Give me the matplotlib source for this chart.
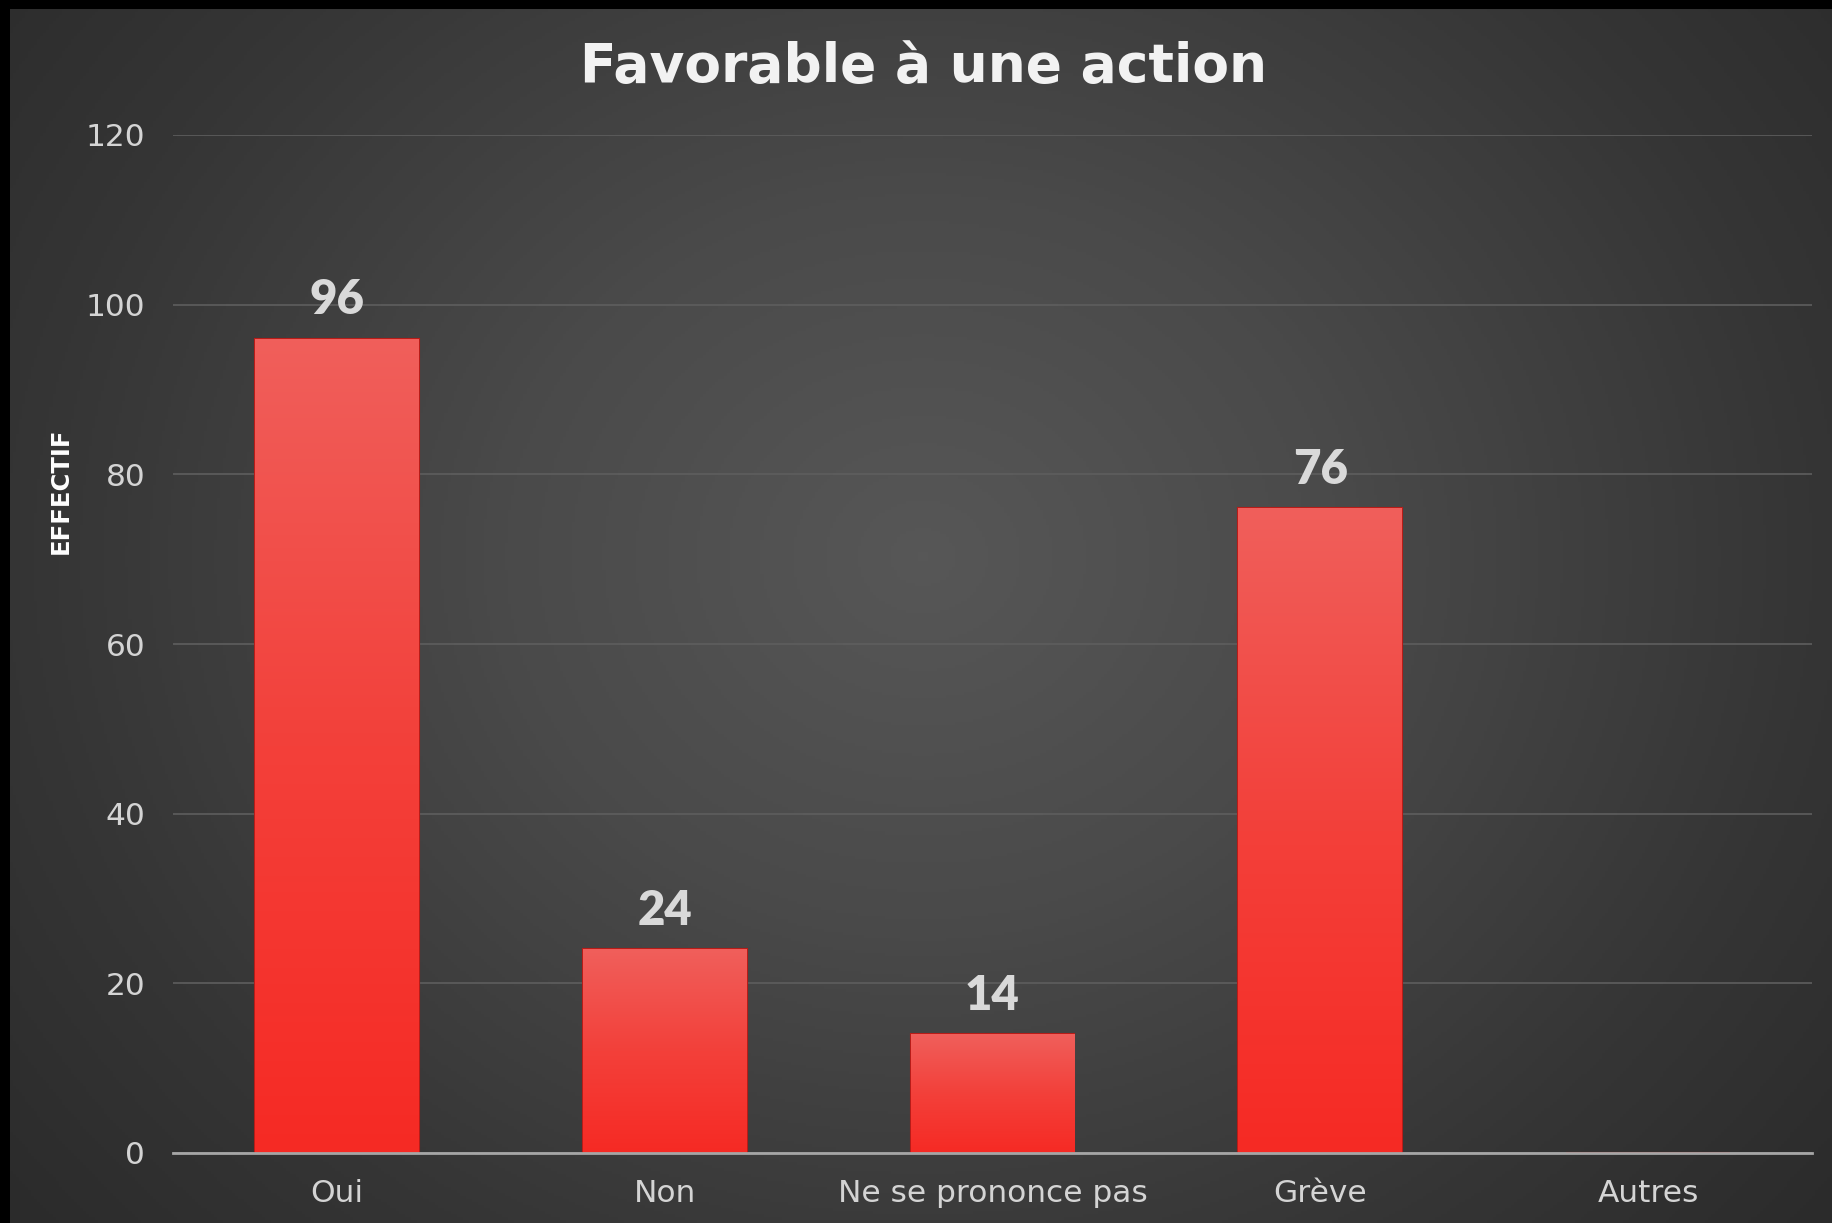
import numpy as np
import matplotlib.pyplot as plt
from matplotlib.colors import LinearSegmentedColormap

categories = ["Oui", "Non", "Ne se prononce pas", "Grève", "Autres"]
effectifs = [96, 24, 14, 76, 0]
y_ticks = [0, 20, 40, 60, 80, 100, 120]

title = "Favorable à une action"
y_label = "EFFECTIF"

plt.rcParams['font.family'] = ['Lato', 'DejaVu Sans']

fig = plt.figure(figsize=(18.33, 12.23), dpi=100)
fig.patch.set_facecolor('black')

# fond en dégradé radial (plus clair au centre)
bg = fig.add_axes([10 / 1833, 0, 1 - 10 / 1833, 1 - 9 / 1223])
bg.set_axis_off()
ny, nx = 400, 600
yy, xx = np.mgrid[0:ny, 0:nx]
cx, cy = nx * 0.50, ny * 0.45
d = np.sqrt(((xx - cx) / (nx * 0.65)) ** 2 + ((yy - cy) / (ny * 0.85)) ** 2)
d = np.clip(d, 0, 1)
bg_cmap = LinearSegmentedColormap.from_list("bg", [(0, "#575757"), (0.35, "#4a4a4a"), (0.75, "#353535"), (1, "#2b2b2b")])
bg.imshow(d, cmap=bg_cmap, aspect='auto', extent=[0, 1, 0, 1], vmin=0, vmax=1)
bg.set_xlim(0, 1)
bg.set_ylim(0, 1)

ax = fig.add_axes([173 / 1833, 1 - 1153 / 1223, (1812 - 173) / 1833, (1153 - 135) / 1223])
ax.set_facecolor('none')

x = np.arange(len(categories))
bars = ax.bar(x, effectifs, width=0.5, color='#f23a33', edgecolor='#b81c18', linewidth=1.5, zorder=3)

# dégradé vertical dans chaque barre
bar_cmap = LinearSegmentedColormap.from_list("bar", ["#f62a24", "#f3403a", "#f05f5b"])
grad = np.linspace(0, 1, 256).reshape(-1, 1)
for b in bars:
    h = b.get_height()
    if h <= 0:
        continue
    x0 = b.get_x()
    im = ax.imshow(grad, cmap=bar_cmap, aspect='auto', origin='lower',
                   extent=[x0, x0 + b.get_width(), 0, h], zorder=3.5)
    im.set_clip_path(b)
    ax.annotate(str(h), (b.get_x() + b.get_width() / 2, h), xytext=(0, 12),
                textcoords='offset points', ha='center', va='bottom',
                fontsize=34, fontweight='heavy', color='#d9d9d9')

ax.set_xlim(-0.5, len(categories) - 0.5)
ax.set_ylim(0, 120)
ax.set_yticks(y_ticks)
ax.set_xticks(x)
ax.set_xticklabels(categories)
ax.tick_params(axis='both', length=0, labelsize=22.5, colors='#d4d4d4')
ax.tick_params(axis='y', pad=20)
ax.tick_params(axis='x', pad=19)
for lab in ax.get_xticklabels() + ax.get_yticklabels():
    lab.set_family(['DejaVu Sans'])
ax.yaxis.grid(True, color='#5e5e5e', linewidth=1.2, zorder=0)
ax.set_axisbelow(True)
for s in ['top', 'right', 'left']:
    ax.spines[s].set_visible(False)
ax.spines['bottom'].set_color('#a6a6a6')
ax.spines['bottom'].set_linewidth(2)
ax.spines['bottom'].set_zorder(4)

fig.text(61 / 1833, 1 - 491 / 1223, y_label, rotation=90, ha='center', va='center',
         fontsize=17.5, fontweight='bold', color='white', family=['DejaVu Sans'])
fig.text(924 / 1833, 1 - 67 / 1223, title, ha='center', va='center',
         fontsize=38.5, fontweight='bold', color='#f2f2f2', family=['DejaVu Sans'])

fig.savefig('out.png', dpi=100, facecolor=fig.get_facecolor())
